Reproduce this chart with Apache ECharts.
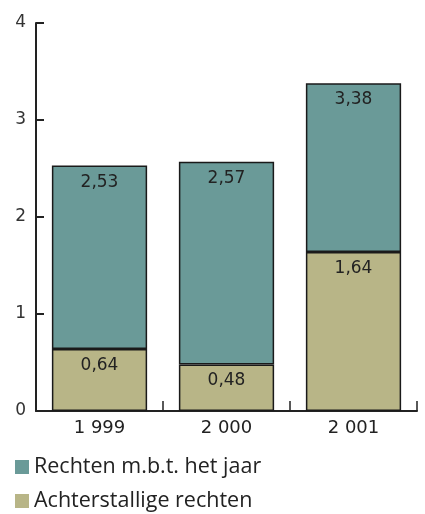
<!DOCTYPE html>
<html><head><meta charset="utf-8">
<script src="https://cdn.jsdelivr.net/npm/echarts@6/dist/echarts.min.js"></script>
<style>html,body{margin:0;padding:0;background:#fff}#c{width:425px;height:514px}</style>
</head><body><div id="c"></div>
<script>
const categories = ['1 999', '2 000', '2 001'];
const achterstallig = [0.64, 0.48, 1.64];
const totaal = [2.53, 2.57, 3.38];
const seriesNames = ['Rechten m.b.t. het jaar', 'Achterstallige rechten'];
const yTicks = [0, 1, 2, 3, 4];

const rechtenJaar = totaal.map((t, i) => +(t - achterstallig[i]).toFixed(2));
const fmt = v => v.toFixed(2).replace('.', ',');
const labelFont = {fontFamily: 'DejaVu Sans', fontSize: 17, color: '#222'};
const legendBase = {
  orient: 'vertical', left: 10, itemWidth: 14, itemHeight: 14, icon: 'rect', itemGap: 6,
  itemStyle: {borderWidth: 0},
  textStyle: {fontFamily: 'Open Sans', fontSize: 21.5, color: '#222'}
};

const chart = echarts.init(document.getElementById('c'));
chart.setOption({
  animation: false,
  grid: {left: 36, right: 8, top: 23, bottom: 103, containLabel: false},
  legend: [
    Object.assign({}, legendBase, {top: 451, data: [seriesNames[0]]}),
    Object.assign({}, legendBase, {top: 485, data: [seriesNames[1]]})
  ],
  xAxis: {
    type: 'category', data: categories,
    axisLine: {lineStyle: {color: '#222', width: 2}},
    axisTick: {show: true, inside: true, length: 10, lineStyle: {color: '#222', width: 1.5}},
    axisLabel: {fontFamily: 'DejaVu Sans', fontSize: 18, color: '#222', margin: 8}
  },
  yAxis: {
    type: 'value', min: 0, max: 4, interval: 1,
    axisLine: {show: true, lineStyle: {color: '#222', width: 2}},
    axisTick: {show: true, inside: true, length: 8, lineStyle: {color: '#222', width: 2}},
    splitLine: {show: false},
    axisLabel: {fontFamily: 'DejaVu Sans', fontSize: 17, color: '#333', margin: 10,
      formatter: v => yTicks.includes(v) ? String(v) : ''}
  },
  series: [
    {
      name: seriesNames[1], type: 'bar', stack: 's', barWidth: '75%',
      data: achterstallig,
      itemStyle: {color: '#b8b587', borderColor: '#1a1a1a', borderWidth: 1.5},
      label: {show: true, position: 'insideTop', distance: 8, ...labelFont,
        formatter: p => fmt(achterstallig[p.dataIndex])}
    },
    {
      name: seriesNames[0], type: 'bar', stack: 's', barWidth: '75%',
      data: rechtenJaar,
      itemStyle: {color: '#6a9a98', borderColor: '#1a1a1a', borderWidth: 1.5},
      label: {show: true, position: 'insideTop', distance: 8, ...labelFont,
        formatter: p => fmt(totaal[p.dataIndex])}
    }
  ]
});
</script></body></html>
